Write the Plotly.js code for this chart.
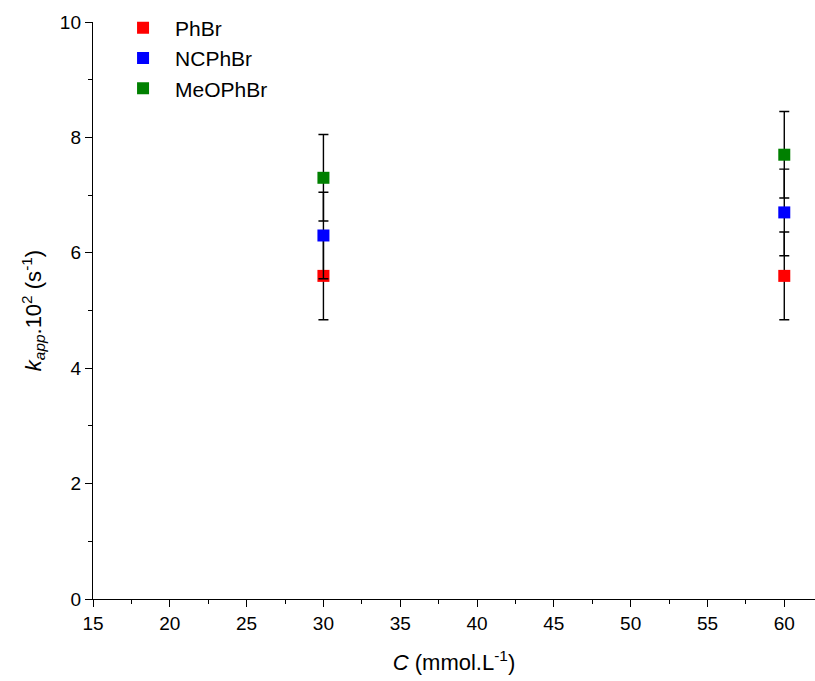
<!DOCTYPE html>
<html>
<head>
<meta charset="utf-8">
<script src="https://cdn.plot.ly/plotly-3.0.1.min.js"></script>
<style>html,body{margin:0;padding:0;background:#fff}#chart{width:815px;height:681px}</style>
</head>
<body>
<div id="chart"></div>
<script>
const concentrations = [30, 60];
const seriesNames = ["PhBr", "NCPhBr", "MeOPhBr"];
const phbr = [5.6, 5.6];
const ncphbr = [6.3, 6.7];
const meophbr = [7.3, 7.7];
const phbrErr = [0.76, 0.76];
const ncphbrErr = [0.75, 0.75];
const meophbrErr = [0.75, 0.75];
const xTicks = [15, 20, 25, 30, 35, 40, 45, 50, 55, 60];
const yTicks = [0, 2, 4, 6, 8, 10];

const colors = ["#FF0000", "#0000FF", "#008000"];
const values = [phbr, ncphbr, meophbr];
const errs = [phbrErr, ncphbrErr, meophbrErr];

const traces = values.map((v, i) => ({
  type: "scatter",
  mode: "markers",
  name: seriesNames[i],
  x: concentrations,
  y: v,
  marker: {symbol: "square", size: 12, color: colors[i]},
  error_y: {type: "data", array: errs[i], visible: true, color: "#000000", thickness: 1.4, width: 5}
}));

const font = {family: "Liberation Sans, Arial, sans-serif", color: "#000"};

const layout = {
  width: 815, height: 681,
  margin: {l: 93, r: 0, t: 22, b: 82},
  paper_bgcolor: "#fff", plot_bgcolor: "#fff",
  font: font,
  showlegend: true,
  legend: {
    x: 0.025, y: 1.025, xanchor: "left", yanchor: "top",
    font: {family: font.family, size: 21, color: "#000"},
    bgcolor: "rgba(0,0,0,0)", borderwidth: 0,
    itemwidth: 54
  },
  xaxis: {
    range: [15, 62],
    tickvals: xTicks,
    ticktext: xTicks.map(String),
    ticks: "outside", ticklen: 7, tickwidth: 1, tickcolor: "#000",
    minor: {dtick: 2.5, tick0: 15, ticks: "outside", ticklen: 4, tickwidth: 1, tickcolor: "#000"},
    showline: true, linecolor: "#000", linewidth: 1.2,
    showgrid: false, zeroline: false,
    tickfont: {family: font.family, size: 19, color: "#000"},
    title: {text: "<i>C</i> (mmol.L<sup>-1</sup>)", font: {family: font.family, size: 22, color: "#000"}, standoff: 21}
  },
  yaxis: {
    range: [0, 10],
    tickvals: yTicks,
    ticktext: yTicks.map(String),
    ticks: "outside", ticklen: 7, tickwidth: 1, tickcolor: "#000",
    minor: {dtick: 1, tick0: 0, ticks: "outside", ticklen: 4, tickwidth: 1, tickcolor: "#000"},
    showline: true, linecolor: "#000", linewidth: 1.2,
    showgrid: false, zeroline: false,
    tickfont: {family: font.family, size: 19, color: "#000"},
    title: {text: "<i>k</i><sub><i>app</i></sub>.10<sup>2</sup> (s<sup>-1</sup>)", font: {family: font.family, size: 22, color: "#000"}, standoff: 12}
  }
};

Plotly.newPlot("chart", traces, layout, {displayModeBar: false, staticPlot: true});
</script>
</body>
</html>
